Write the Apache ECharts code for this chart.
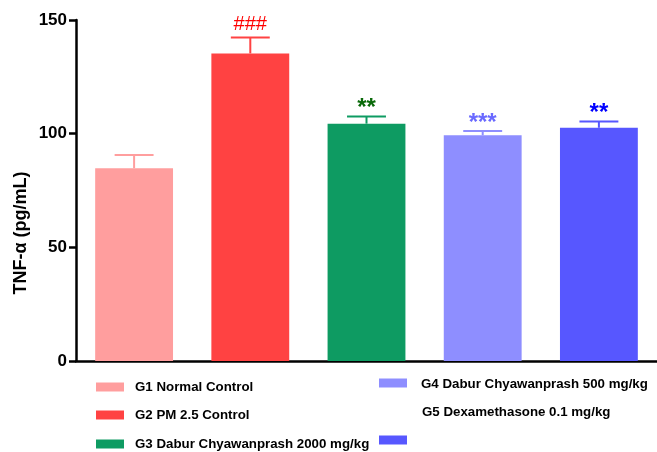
<!DOCTYPE html>
<html>
<head>
<meta charset="utf-8">
<script src="https://cdn.jsdelivr.net/npm/echarts@6/dist/echarts.min.js"></script>
<style>
  html, body { margin: 0; padding: 0; background: #fff; }
  #chart { width: 657px; height: 452px; }
</style>
</head>
<body>
<div id="chart"></div>
<script>
// Groups, mean TNF-α and mean + SEM
const groups = [
  'G1 Normal Control',
  'G2 PM 2.5 Control',
  'G3 Dabur Chyawanprash 2000 mg/kg',
  'G4 Dabur Chyawanprash 500 mg/kg',
  'G5 Dexamethasone 0.1 mg/kg'
];
const means = [84.8, 135.3, 104.4, 99.3, 102.6];
const upper = [90.6, 142.3, 107.6, 101.2, 105.4];
const marks = ['', '###', '**', '***', '**'];
const yTicks = [0, 50, 100, 150];

const barColors = ['#FF9E9E', '#FF4242', '#0E9B62', '#8E8EFF', '#5757FF'];
const markColors = ['#FF0000', '#FF0000', '#0A6A0A', '#6A6AFF', '#0000FF'];

const chart = echarts.init(document.getElementById('chart'), null, { renderer: 'canvas' });

const FONT = 'Liberation Sans, Arial, sans-serif';

// Legend drawn as graphics (two columns, G5 label and swatch on separate rows)
const legendPos = [
  { sx: 96, sy: 387, tx: 135, ty: 387 },
  { sx: 96, sy: 415, tx: 135, ty: 415 },
  { sx: 96, sy: 444, tx: 135, ty: 444 },
  { sx: 379, sy: 383, tx: 421, ty: 384 },
  { sx: 379, sy: 440, tx: 422, ty: 412 }
];
const legendGraphics = [];
groups.forEach((g, i) => {
  const p = legendPos[i];
  legendGraphics.push({
    type: 'rect',
    shape: { x: p.sx, y: p.sy - 4.5, width: 28, height: 9 },
    style: { fill: barColors[i] }
  });
  legendGraphics.push({
    type: 'text',
    x: p.tx, y: p.ty,
    style: {
      text: g, fill: '#000', font: 'bold 13.3px ' + FONT,
      verticalAlign: 'middle'
    }
  });
});
legendGraphics.push({
  type: 'text',
  x: 21, y: 233,
  rotation: Math.PI / 2,
  style: {
    text: 'TNF-α (pg/mL)', fill: '#000', font: 'bold 18px ' + FONT,
    align: 'center', verticalAlign: 'middle'
  }
});

chart.setOption({
  animation: false,
  grid: { left: 76, top: 20, width: 585, height: 341, containLabel: false },
  xAxis: {
    type: 'category',
    data: groups,
    axisLine: { show: true, lineStyle: { color: '#000', width: 2.5 } },
    axisTick: { show: false },
    axisLabel: { show: false }
  },
  yAxis: {
    type: 'value',
    min: 0, max: 150, interval: 50,
    axisLine: { show: true, lineStyle: { color: '#000', width: 2.5 } },
    axisTick: { show: true, length: 7, lineStyle: { color: '#000', width: 2.5 } },
    axisLabel: {
      color: '#000', fontSize: 17, fontWeight: 'bold', fontFamily: FONT, margin: 9,
      formatter: v => yTicks.includes(v) ? String(v) : ''
    },
    splitLine: { show: false }
  },
  series: [
    {
      type: 'bar',
      barWidth: '67%',
      data: means.map((v, i) => ({ value: v, itemStyle: { color: barColors[i] } })),
      z: 2
    },
    {
      type: 'custom',
      z: 3,
      data: means.map((v, i) => [i, v, upper[i]]),
      renderItem: function (params, api) {
        const i = api.value(0);
        const base = api.coord([i, api.value(1)]);
        const top = api.coord([i, api.value(2)]);
        const bw = api.size([1, 0])[0] * 0.67;
        const half = bw / 4;
        const col = barColors[i];
        const isHash = i === 1;
        return {
          type: 'group',
          children: [
            { type: 'line', shape: { x1: base[0], y1: base[1], x2: top[0], y2: top[1] },
              style: { stroke: col, lineWidth: 2 } },
            { type: 'line', shape: { x1: top[0] - half, y1: top[1], x2: top[0] + half, y2: top[1] },
              style: { stroke: col, lineWidth: 2 } },
            { type: 'text', x: top[0], y: top[1] - (isHash ? 13 : 8),
              style: { text: marks[i], fill: markColors[i],
                       font: (isHash ? '20px ' : 'bold 24px ') + FONT,
                       align: 'center', verticalAlign: 'middle' } }
          ]
        };
      }
    }
  ],
  graphic: legendGraphics
});
</script>
</body>
</html>
